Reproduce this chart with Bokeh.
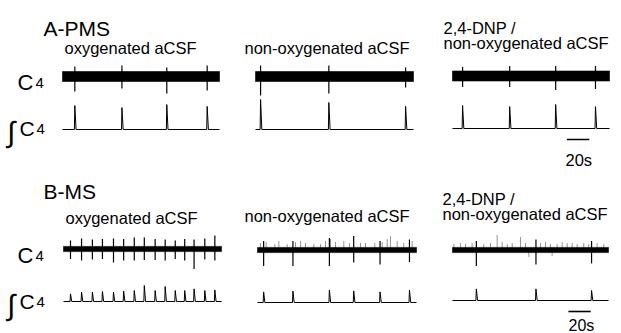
from bokeh.plotting import figure
from bokeh.models import Range1d
from bokeh.core.properties import value
from bokeh.embed import file_html
from bokeh.resources import INLINE

# ---------------- data (times in s, amplitudes in normalised units) ----------------
DURATION = 140          # length of each recording shown (s)
SCALEBAR_S = 20         # scale bar length (s)

# Panel A (PMS)
a_oxy_t = [11, 53, 93, 129]
a_oxy_up = [0.50, 0.55, 0.45, 0.55]
a_oxy_down = [0.75, 0.60, 0.85, 0.70]
a_oxy_int = [0.80, 0.73, 0.83, 0.77]

a_non_t = [4.5, 65, 133]
a_non_up = [0.55, 0.55, 0.45]
a_non_down = [0.95, 0.85, 0.55]
a_non_int = [1.00, 0.90, 0.77]

a_dnp_t = [9, 51, 92, 127.5]
a_dnp_up = [0.45, 0.50, 0.50, 0.50]
a_dnp_down = [0.55, 0.55, 0.70, 0.65]
a_dnp_int = [0.77, 0.73, 0.80, 0.73]

# Panel B (MS)
b_oxy_t = [6.2, 16.0, 25.6, 34.5, 44.3, 53.3, 62.7, 71.6, 81.2, 90.1, 99.0, 107.4, 115.7, 125.2, 134.1]
b_oxy_up = [0.42, 0.53, 0.47, 0.50, 0.53, 0.50, 0.58, 0.58, 0.50, 0.47, 0.42, 0.50, 0.47, 0.53, 0.67]
b_oxy_down = [0.50, 0.58, 0.53, 0.50, 0.67, 0.58, 0.58, 0.55, 0.55, 0.58, 0.50, 0.58, 1.00, 0.53, 0.58]
b_oxy_int = [0.38, 0.47, 0.47, 0.50, 0.47, 0.52, 0.55, 0.80, 0.55, 0.75, 0.55, 0.55, 0.63, 0.55, 0.58]

b_non_t = [5.4, 31.2, 63.3, 84.7, 107.9, 133.8]
b_non_up = [0.45, 0.45, 0.60, 0.70, 0.45, 0.53]
b_non_down = [0.80, 0.80, 0.80, 0.63, 0.72, 0.60]
b_non_int = [0.53, 0.57, 0.62, 0.58, 0.53, 0.62]
b_non_noise_t = [2.6, 7.6, 15.3, 18.8, 26.1, 33.5, 37.9, 42.3, 49.6, 55.5, 59.9, 64.3,
                 68.7, 76.0, 81.0, 90.7, 95.1, 103.3, 109.8, 114.2, 117.1, 123.0, 128.8, 136.2]
b_non_noise_a = [0.35, 0.40, 0.30, 0.45, 0.30, 0.40, 0.45, 0.35, 0.30, 0.30, 0.45, 0.55,
                 0.40, 0.45, 0.35, 0.35, 0.35, 0.35, 0.40, 0.55, 0.70, 0.45, 0.35, 0.45]

b_dnp_t = [21.4, 74.9, 124.8]
b_dnp_up = [0.45, 0.53, 0.45]
b_dnp_down = [0.80, 0.72, 0.67]
b_dnp_int = [0.58, 0.58, 0.50]
b_dnp_noise_t = [1.2, 7.2, 11.7, 17.6, 28.1, 34.1, 40.1, 44.6, 49.1, 53.6, 61.0, 65.5,
                 79.0, 83.5, 87.9, 93.9, 98.4, 102.9, 107.4, 111.9, 117.8, 122.3, 129.8, 135.8]
b_dnp_noise_a = [0.30, 0.35, 0.30, 0.35, 0.30, 0.35, 0.75, 0.40, 0.30, 0.35, 0.65, 0.35,
                 0.35, 0.40, 0.30, 0.30, 0.40, 0.35, 0.35, 0.30, 0.35, 0.30, 0.35, 0.30]
b_dnp_noise_down_t = [68.5, 89.4]
b_dnp_noise_down_a = [0.35, 0.30]

band_a = 0.25   # half-width of tonic noise band, panel A
band_b = 0.13   # panel B

titles = ["A-PMS", "B-MS"]
conditions = ["oxygenated aCSF", "non-oxygenated aCSF", "2,4-DNP /", "non-oxygenated aCSF"]
scale_label = "20s"

# ---------------- figure ----------------
W, H = 621, 333
p = figure(width=W, height=H, x_range=Range1d(0, W), y_range=Range1d(H, 0),
           output_backend="svg", toolbar_location=None, min_border=0,
           x_axis_location=None, y_axis_location=None)
p.grid.visible = False
p.outline_line_color = None
p.background_fill_color = "white"
p.border_fill_color = "white"

FONT = value("Liberation Sans")


def trace(x_tgt, raw_c, raw_px, int_b, int_px, band, t, up, down, ints,
          noise_t=None, noise_a=None, noise_dt=None, noise_da=None):
    raw = p.subplot(x_source=Range1d(0, DURATION), y_source=Range1d(-1, 1),
                    x_target=Range1d(*x_tgt),
                    y_target=Range1d(raw_c + raw_px, raw_c - raw_px))
    if noise_t:
        raw.segment(x0=noise_t, y0=[0] * len(noise_t), x1=noise_t, y1=noise_a,
                    line_color="#8a8a8a", line_width=0.9)
    if noise_dt:
        raw.segment(x0=noise_dt, y0=[0] * len(noise_dt), x1=noise_dt,
                    y1=[-a for a in noise_da], line_color="#8a8a8a", line_width=0.9)
    raw.quad(left=[0], right=[DURATION], bottom=[-band], top=[band],
             fill_color="black", line_color="black", line_width=0.6)
    raw.segment(x0=t, y0=[-d for d in down], x1=t, y1=up,
                line_color="black", line_width=1.2)

    integ = p.subplot(x_source=Range1d(0, DURATION), y_source=Range1d(0, 1),
                      x_target=Range1d(*x_tgt),
                      y_target=Range1d(int_b, int_b - int_px))
    xs, ys = [0], [0]
    for tt, hh in zip(t, ints):
        xs += [tt - 0.4, tt, tt + 1.1]
        ys += [0, hh, 0]
    xs.append(DURATION)
    ys.append(0)
    integ.line(xs, ys, line_color="black", line_width=1.0)


# Panel A
trace((62, 219), 76, 20, 129, 30, band_a, a_oxy_t, a_oxy_up, a_oxy_down, a_oxy_int)
trace((255, 413), 76, 20, 129, 30, band_a, a_non_t, a_non_up, a_non_down, a_non_int)
trace((452, 609), 75.5, 20, 128, 30, band_a, a_dnp_t, a_dnp_up, a_dnp_down, a_dnp_int)
# Panel B
trace((63, 221), 248.5, 20, 301, 20, band_b, b_oxy_t, b_oxy_up, b_oxy_down, b_oxy_int)
trace((257, 416), 249.5, 20, 302, 20, band_b, b_non_t, b_non_up, b_non_down, b_non_int,
      b_non_noise_t, b_non_noise_a)
trace((452, 608), 249.5, 20, 300, 20, band_b, b_dnp_t, b_dnp_up, b_dnp_down, b_dnp_int,
      b_dnp_noise_t, b_dnp_noise_a, b_dnp_noise_down_t, b_dnp_noise_down_a)

# scale bars (20 s) under the right-hand column
for x_tgt, y_bar, start in [((452, 609), 139, 102), ((452, 608), 311, 104)]:
    sb = p.subplot(x_source=Range1d(0, DURATION), y_source=p.y_range,
                   x_target=Range1d(*x_tgt), y_target=p.y_range)
    sb.segment(x0=[start], y0=[y_bar], x1=[start + SCALEBAR_S], y1=[y_bar],
               line_color="black", line_width=1.6)


def label(txt, x, y, size, align="left"):
    p.text(x=[x], y=[y], text=[txt], text_font=FONT, text_font_size=f"{size}px",
           text_color="black", text_align=align, text_baseline="alphabetic")


# titles
label(titles[0], 43, 28, 21)
label(titles[1], 43, 191, 21)
# condition headings
label(conditions[0], 64, 47, 16.5)
label(conditions[1], 244, 47, 16.5)
label(conditions[2], 443, 27, 16.5)
label(conditions[3], 443, 42, 16.5)
label(conditions[0], 65, 217, 16.5)
label(conditions[1], 244, 215, 16.5)
label(conditions[2], 442, 198, 16.5)
label(conditions[3], 442, 213, 16.5)
# scale bar labels
label(scale_label, 565, 159, 16.5)
label(scale_label, 568, 325, 16)
# channel labels
for yb_raw, yb_int in [(82, 128), (255, 301)]:
    label("C", 17, yb_raw, 22)
    label("4", 35, yb_raw, 15)
    label("\u222B", 7, yb_int + 3, 29)
    label("C", 19, yb_int, 21)
    label("4", 36, yb_int, 15)

open("out.html", "w").write(file_html(p, INLINE))
